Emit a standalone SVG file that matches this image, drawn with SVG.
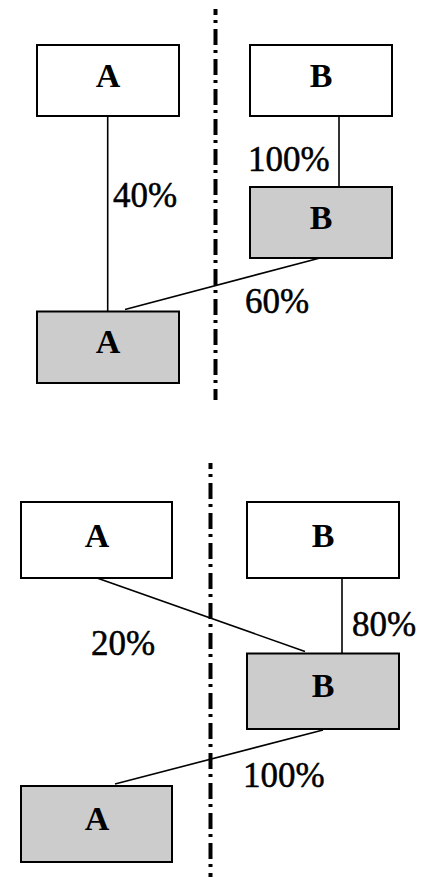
<svg xmlns="http://www.w3.org/2000/svg" width="424" height="877" viewBox="0 0 424 877">
<style>
.box{fill:#fff;stroke:#000;stroke-width:2}
.g{fill:#cccccc}
text{font-family:"Liberation Serif","DejaVu Serif","Times New Roman",serif;font-size:34px;fill:#000}
.lbl{font-weight:bold;text-anchor:middle}
.pct{font-size:35px;stroke:#000;stroke-width:0.5}
.ln{stroke:#000;stroke-width:1.6;fill:none}
.dd{stroke:#000;stroke-width:4;fill:none;stroke-dasharray:16 5 3 6;stroke-dashoffset:10}
</style>
<rect width="424" height="877" fill="#fff"/>
<g id="dividers">
<line class="dd" x1="215.5" y1="9" x2="215.5" y2="400"/>
<line class="dd" x1="210.5" y1="463" x2="210.5" y2="877"/>
</g>
<g id="connectors">
<line class="ln" x1="107.7" y1="116" x2="107.7" y2="311"/>
<line class="ln" x1="339" y1="116" x2="339" y2="187"/>
<line class="ln" x1="320" y1="258" x2="125" y2="309.5"/>
<line class="ln" x1="97" y1="578" x2="305" y2="651.5"/>
<line class="ln" x1="342" y1="578" x2="342" y2="653"/>
<line class="ln" x1="323" y1="730" x2="115" y2="784"/>
<text class="pct" x="113" y="207">40%</text>
<text class="pct" x="248" y="171">100%</text>
<text class="pct" x="245" y="313">60%</text>
<text class="pct" x="352" y="636">80%</text>
<text class="pct" x="91" y="655">20%</text>
<text class="pct" x="243" y="787">100%</text>
</g>
<g id="top-A1"><rect class="box" x="37" y="45" width="142" height="71"/><text class="lbl" x="108" y="87">A</text></g>
<g id="top-B1"><rect class="box" x="250" y="45" width="142" height="71"/><text class="lbl" x="321" y="87">B</text></g>
<g id="top-B2"><rect class="box g" x="250" y="187" width="142" height="71"/><text class="lbl" x="321" y="229">B</text></g>
<g id="top-A2"><rect class="box g" x="37" y="311.5" width="142" height="71.5"/><text class="lbl" x="108" y="353">A</text></g>
<g id="bot-A1"><rect class="box" x="21" y="502" width="151" height="76"/><text class="lbl" x="97" y="547">A</text></g>
<g id="bot-B1"><rect class="box" x="247" y="502" width="152" height="76"/><text class="lbl" x="323" y="547">B</text></g>
<g id="bot-B2"><rect class="box g" x="247" y="653.5" width="152" height="75.5"/><text class="lbl" x="323" y="697">B</text></g>
<g id="bot-A2"><rect class="box g" x="21" y="786" width="151" height="76"/><text class="lbl" x="97" y="830">A</text></g>
</svg>
